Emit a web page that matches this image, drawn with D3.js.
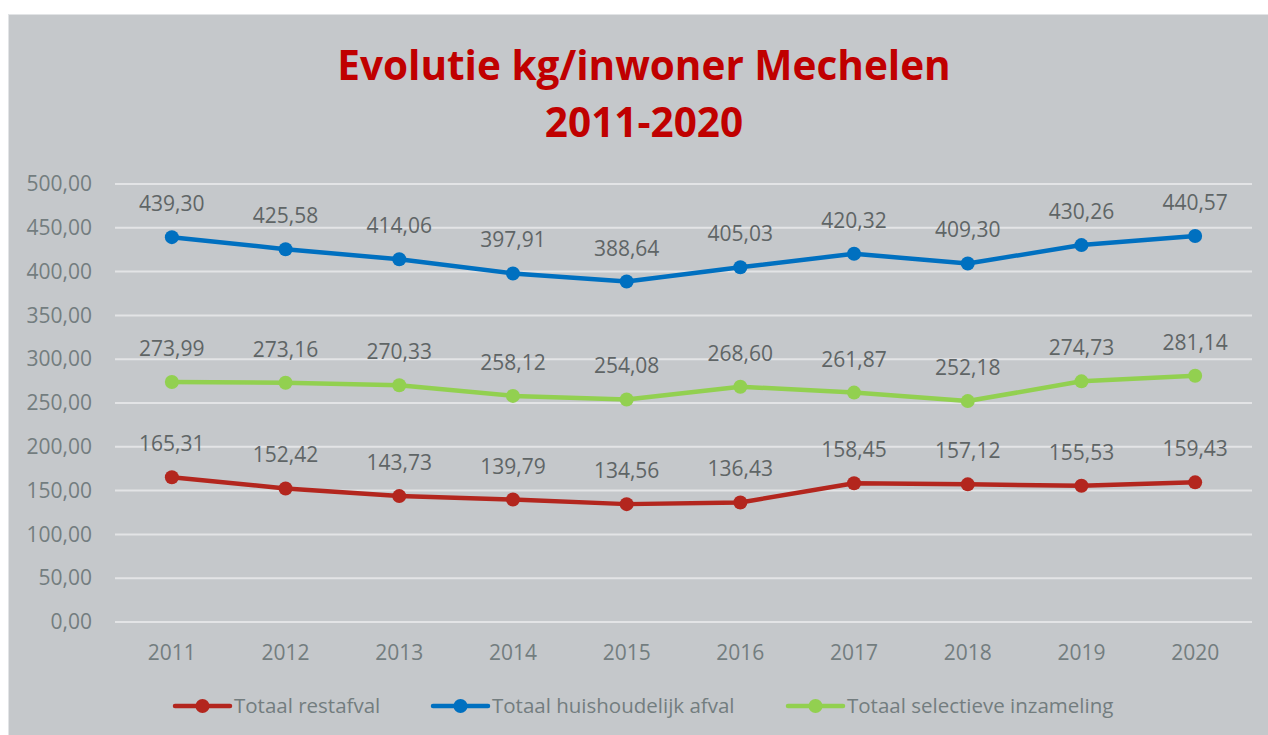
<!DOCTYPE html>
<html><head><meta charset="utf-8">
<script src="https://cdn.jsdelivr.net/npm/d3@7"></script>
<style>html,body{margin:0;padding:0;background:#fff;}svg{display:block;}</style>
</head><body>
<svg id="c" width="1268" height="735"></svg>
<script>
const years = ["2011","2012","2013","2014","2015","2016","2017","2018","2019","2020"];
const restafval = [165.31,152.42,143.73,139.79,134.56,136.43,158.45,157.12,155.53,159.43];
const huishoudelijk = [439.30,425.58,414.06,397.91,388.64,405.03,420.32,409.30,430.26,440.57];
const selectief = [273.99,273.16,270.33,258.12,254.08,268.60,261.87,252.18,274.73,281.14];
const yTicks = [0,50,100,150,200,250,300,350,400,450,500];
const seriesNames = ["Totaal restafval","Totaal huishoudelijk afval","Totaal selectieve inzameling"];
const seriesColors = ["#b3261e","#0070c0","#92d050"];
const titleLines = ["Evolutie kg/inwoner Mechelen","2011-2020"];

const series = [restafval, huishoudelijk, selectief].map((v,i)=>({name:seriesNames[i], color:seriesColors[i], values:v}));
const fmt = v => v.toFixed(2).replace(".", ",");
const FONT = "'Open Sans', 'Noto Sans', sans-serif";

const svg = d3.select("#c");
svg.append("rect").attr("x",8).attr("y",14).attr("width",1260).attr("height",721).attr("fill","#c5c8cb");
svg.append("line").attr("x1",8.5).attr("x2",8.5).attr("y1",14).attr("y2",735).attr("stroke","#e2e4e6").attr("stroke-width",1);
svg.append("line").attr("x1",8).attr("x2",1268).attr("y1",14.5).attr("y2",14.5).attr("stroke","#e2e4e6").attr("stroke-width",1);

svg.selectAll("text.title").data(titleLines).enter().append("text")
  .attr("x",644).attr("y",(d,i)=>80+i*57).attr("text-anchor","middle")
  .attr("font-family",FONT).attr("font-weight","bold").attr("font-size",40.5).attr("fill","#c00000")
  .text(d=>d);

const x = d3.scaleBand().domain(years).range([115,1252]);
const y = d3.scaleLinear().domain([0,500]).range([622,184]);

const grid = svg.append("g");
grid.selectAll("line").data(yTicks).enter().append("line")
  .attr("x1",115).attr("x2",1252).attr("y1",d=>y(d)).attr("y2",d=>y(d))
  .attr("stroke","#e3e4e6").attr("stroke-width",2);

const yAxis = svg.append("g").attr("transform","translate(92,0)")
  .call(d3.axisLeft(y).tickValues(yTicks).tickFormat(fmt).tickSize(0).tickPadding(0));
yAxis.select(".domain").remove();
yAxis.selectAll("text").attr("font-family",FONT).attr("font-size",21).attr("fill","#737d7f");

const xAxis = svg.append("g").attr("transform","translate(0,645)")
  .call(d3.axisBottom(x).tickSize(0).tickPadding(0));
xAxis.select(".domain").remove();
xAxis.selectAll("text").attr("font-family",FONT).attr("font-size",21).attr("fill","#737d7f").attr("dy","0.71em");

const line = d3.line().x((d,i)=>x(years[i])+x.bandwidth()/2).y(d=>y(d));
series.forEach(s=>{
  const g = svg.append("g");
  g.append("path").attr("d",line(s.values)).attr("fill","none").attr("stroke",s.color).attr("stroke-width",4.5).attr("stroke-linejoin","round");
  g.selectAll("circle").data(s.values).enter().append("circle")
    .attr("cx",(d,i)=>x(years[i])+x.bandwidth()/2).attr("cy",d=>y(d)).attr("r",7).attr("fill",s.color);
  g.selectAll("text").data(s.values).enter().append("text")
    .attr("x",(d,i)=>x(years[i])+x.bandwidth()/2).attr("y",d=>y(d)-26)
    .attr("text-anchor","middle").attr("font-family",FONT).attr("font-size",21).attr("fill","#5f6566")
    .text(fmt);
});

const legendX = [175,433,788];
const lg = svg.append("g");
series.forEach((s,i)=>{
  const g = lg.append("g").attr("transform",`translate(${legendX[i]},706)`);
  g.append("line").attr("x1",0).attr("x2",55).attr("y1",0).attr("y2",0).attr("stroke",s.color).attr("stroke-width",4.5).attr("stroke-linecap","round");
  g.append("circle").attr("cx",27.5).attr("cy",0).attr("r",7).attr("fill",s.color);
  g.append("text").attr("x",59).attr("y",0).attr("dy","0.35em").attr("font-family",FONT).attr("font-size",20.5).attr("fill","#737d7f").text(s.name);
});
</script>
</body></html>
